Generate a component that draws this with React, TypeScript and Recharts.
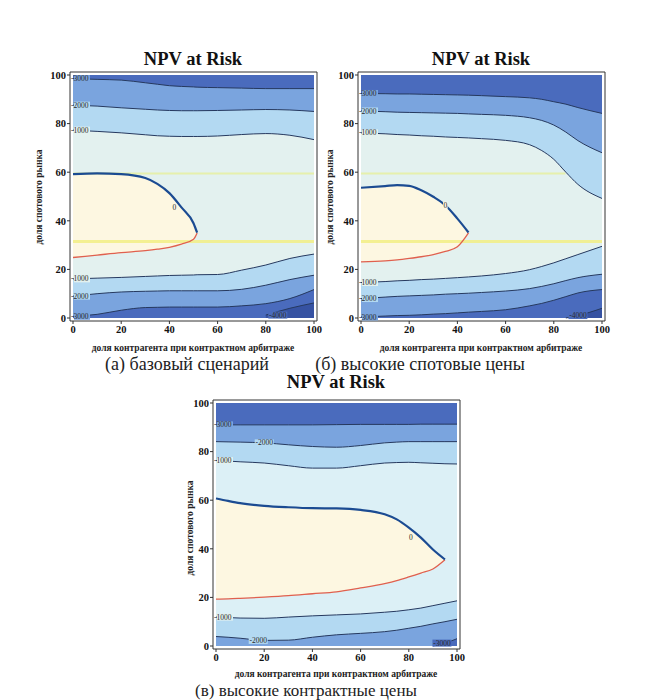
import React from 'react';
import { ComposedChart, Area, Line, XAxis, YAxis, ReferenceLine, LabelList } from 'recharts';

const FONT = '"Liberation Serif", "Times New Roman", serif';

const xTicks = [0, 20, 40, 60, 80, 100];
const yTicks = [0, 20, 40, 60, 80, 100];
const minorTicks = [0, 5, 10, 15, 20, 25, 30, 35, 40, 45, 50, 55, 60, 65, 70, 75, 80, 85, 90, 95, 100];

// (а) базовый сценарий
const xA = [0, 10, 20, 30, 35, 40, 45, 50, 51.5, 60, 70, 80, 90, 100];
const aTop3 = [98.5, 98.2, 97.9, 96.8, 96.2, 95.6, 95.3, 95.1, 95.0, 94.8, 94.6, 94.4, 94.4, 94.4];
const aTop2 = [87.6, 87.2, 86.5, 85.9, 85.6, 85.4, 85.3, 85.3, 85.3, 85.4, 85.6, 85.8, 85.6, 85.0];
const aTop1 = [77.3, 76.8, 76.2, 75.4, 75.0, 74.8, 74.7, 74.7, 74.7, 74.9, 75.5, 75.9, 75.2, 73.4];
const aZeroHi = [59.2, 59.5, 59.2, 57.6, 55.2, 51.4, 45.5, 39.0, 35.1, null, null, null, null, null];
const aZeroLo = [24.9, 25.9, 26.9, 27.7, 28.3, 29.1, 30.4, 32.4, 35.0, null, null, null, null, null];
const aBot1 = [16.1, 16.4, 16.7, 17.1, 17.3, 17.5, 17.6, 17.7, 17.8, 17.9, 19.7, 21.8, 24.5, 26.3];
const aBot2 = [9.0, 10.0, 10.7, 11.0, 11.1, 11.2, 11.2, 11.2, 11.2, 11.2, 11.8, 13.5, 15.8, 17.6];
const aBot3 = [0.7, 1.5, 3.2, 4.3, 4.4, 4.5, 4.5, 4.5, 4.5, 4.5, 5.0, 5.9, 8.0, 11.7];
const aBot4 = [null, null, null, null, null, null, null, null, null, null, null, 1.2, 4.0, 6.2];
const aPlateau = [59.5, 31.5];
const aPlateauEnd = [100, 100];

// (б) высокие спотовые цены
const xB = [0, 10, 15, 20, 25, 30, 35, 40, 44.6, 50, 60, 70, 75, 80, 85, 90, 100];
const bTop3 = [92.4, 92.3, 92.2, 92.2, 92.1, 92.0, 91.9, 91.8, 91.7, 91.5, 91.1, 90.6, 90.0, 89.0, 88.0, 86.6, 84.2];
const bTop2 = [85.2, 84.9, 84.7, 84.6, 84.5, 84.4, 84.3, 84.2, 84.0, 83.8, 83.4, 82.4, 81.3, 79.4, 76.5, 73.0, 68.0];
const bTop1 = [76.2, 75.8, 75.5, 75.3, 75.0, 74.8, 74.5, 74.3, 74.1, 73.8, 73.1, 71.3, 68.9, 65.3, 60.0, 55.0, 49.2];
const bZeroHi = [53.6, 54.3, 54.7, 54.4, 52.6, 49.9, 46.4, 40.9, 35.2, null, null, null, null, null, null, null, null];
const bZeroLo = [23.1, 23.5, 23.9, 24.5, 25.2, 26.1, 27.4, 29.3, 35.0, null, null, null, null, null, null, null, null];
const bBot1 = [14.6, 15.0, 15.3, 15.5, 15.8, 16.0, 16.3, 16.6, 16.9, 17.3, 18.3, 19.9, 21.2, 22.7, 24.4, 26.1, 29.5];
const bBot2 = [8.0, 8.6, 8.9, 9.1, 9.3, 9.5, 9.8, 10.0, 10.2, 10.5, 11.1, 12.1, 13.0, 14.1, 15.4, 16.6, 18.0];
const bBot3 = [0.4, 0.8, 1.0, 1.1, 1.3, 1.6, 1.8, 2.1, 2.4, 2.7, 3.4, 5.0, 6.0, 7.3, 8.8, 10.3, 11.7];
const bBot4 = [null, null, null, null, null, null, null, null, null, null, null, null, null, null, 0.0, 1.0, 4.0];
const bPlateau = [59.5, 31.5];
const bPlateauEnd = [84.8, 100];

// (в) высокие контрактные цены
const xC = [0, 5, 10, 20, 30, 40, 50, 60, 70, 75, 80, 85, 90, 95, 100];
const cTop3 = [91.0, 91.0, 91.0, 91.0, 91.0, 91.0, 91.1, 91.2, 91.2, 91.2, 91.2, 91.3, 91.3, 91.3, 91.3];
const cTop2 = [84.1, 84.0, 83.9, 83.6, 82.8, 82.1, 81.8, 82.5, 83.6, 83.9, 84.1, 84.1, 84.1, 84.1, 84.1];
const cTop1 = [76.3, 76.1, 75.8, 75.3, 74.2, 73.2, 73.2, 74.2, 75.3, 75.5, 75.6, 75.4, 75.2, 75.0, 74.9];
const cZeroHi = [60.7, 59.7, 58.8, 57.7, 57.1, 56.7, 56.6, 56.0, 54.2, 52.1, 48.7, 44.6, 39.7, 35.6, null];
const cZeroLo = [19.3, 19.4, 19.6, 20.1, 20.7, 21.5, 22.3, 23.9, 25.7, 26.9, 28.4, 30.0, 31.7, 35.5, null];
const cBot1 = [11.9, 11.7, 11.5, 11.4, 11.9, 12.4, 12.8, 13.2, 13.9, 14.3, 14.9, 15.6, 16.6, 17.6, 18.6];
const cBot2 = [3.9, 3.6, 3.2, 2.3, 2.4, 3.6, 4.6, 5.2, 5.9, 6.5, 7.3, 8.1, 9.1, 10.0, 11.0];
const cBot3 = [null, null, null, null, null, null, null, null, null, null, null, null, 0.0, 1.2, 3.0];

const BAND = ['#e3f1ef', '#b3d9f2', '#7aa4de', '#4a6bbd', '#3652a2'];
const INSIDE = '#fdf7e1';
const LINE = '#26395f';

function buildRows(xs, series) {
  return xs.map((x, i) => {
    const row = { x };
    Object.keys(series).forEach((k) => {
      row[k] = series[k][i];
    });
    return row;
  });
}

const rowsA = buildRows(xA, {
  top3: aTop3, top2: aTop2, top1: aTop1, zeroHi: aZeroHi, zeroLo: aZeroLo,
  bot1: aBot1, bot2: aBot2, bot3: aBot3, bot4: aBot4,
});
const rowsB = buildRows(xB, {
  top3: bTop3, top2: bTop2, top1: bTop1, zeroHi: bZeroHi, zeroLo: bZeroLo,
  bot1: bBot1, bot2: bBot2, bot3: bBot3, bot4: bBot4,
});
const rowsC = buildRows(xC, {
  top3: cTop3, top2: cTop2, top1: cTop1, zeroHi: cZeroHi, zeroLo: cZeroLo,
  bot1: cBot1, bot2: cBot2, bot3: cBot3,
});

// contour labels: series key, row index, text
const labelsA = [
  { key: 'top3', i: 0, text: '-3000', bg: BAND[2] },
  { key: 'top2', i: 0, text: '-2000', bg: BAND[1] },
  { key: 'top1', i: 0, text: '-1000', bg: BAND[0] },
  { key: 'zeroHi', i: 6, text: '0', dx: -7, bg: INSIDE },
  { key: 'bot1', i: 0, text: '-1000', bg: BAND[0] },
  { key: 'bot2', i: 0, text: '-2000', bg: BAND[1] },
  { key: 'bot3', i: 0, text: '-3000', bg: BAND[2] },
  { key: 'bot4', i: 11, text: '-4000', dx: 12, bg: BAND[3] },
];
const labelsB = [
  { key: 'top3', i: 0, text: '-3000', bg: BAND[2] },
  { key: 'top2', i: 0, text: '-2000', bg: BAND[1] },
  { key: 'top1', i: 0, text: '-1000', bg: BAND[0] },
  { key: 'zeroHi', i: 6, text: '0', dx: 0, bg: INSIDE },
  { key: 'bot1', i: 0, text: '-1000', bg: BAND[0] },
  { key: 'bot2', i: 0, text: '-2000', bg: BAND[1] },
  { key: 'bot3', i: 0, text: '-3000', bg: BAND[2] },
  { key: 'bot4', i: 15, text: '-4000', dx: 0, bg: BAND[3] },
];
const labelsC = [
  { key: 'top3', i: 0, text: '-3000', bg: BAND[2] },
  { key: 'top2', i: 3, text: '-2000', dx: 0, bg: BAND[1] },
  { key: 'top1', i: 0, text: '-1000', bg: BAND[0] },
  { key: 'zeroHi', i: 11, text: '0', dx: -10, bg: INSIDE },
  { key: 'bot1', i: 0, text: '-1000', bg: BAND[0] },
  { key: 'bot2', i: 3, text: '-2000', dx: -6, bg: BAND[1] },
  { key: 'bot3', i: 13, text: '-3000', dx: -3, bg: BAND[3] },
];

const makeLabel = (lab) => (p) => {
  if (p.index !== lab.i || p.x == null || p.y == null) return null;
  const atEdge = lab.dx === undefined;
  const x = Number(p.x) + (atEdge ? -2 : lab.dx);
  const y = Number(p.y);
  const w = lab.text.length * 3.6 + 1;
  const rx = atEdge ? x + 3 : x - w / 2;
  return (
    <g key={`${lab.key}-${lab.i}`}>
      <rect x={rx} y={y - 3.5} width={atEdge ? w - 3 : w} height={7} fill={lab.bg} />
      <text x={x} y={y} dy="0.34em" textAnchor={atEdge ? 'start' : 'middle'} fontSize={7.5}
        fontFamily={FONT} fill="#2a2a2a">{lab.text}</text>
    </g>
  );
};

const tickStyle = { fontFamily: FONT, fontSize: 10.5, fontWeight: 'bold', fill: '#111' };

function ContourPanel({ rows, labels, base, plateau = [], plateauEnd = [] }) {
  const keys = Object.keys(rows[0]).filter((k) => k !== 'x');
  const lineKeys = keys.filter((k) => k !== 'zeroHi' && k !== 'zeroLo');
  const topKeys = ['top1', 'top2', 'top3'];
  const botKeys = ['bot1', 'bot2', 'bot3', 'bot4'].filter((k) => keys.includes(k));
  return (
    <ComposedChart width={330} height={350} data={rows}
      margin={{ top: 72, right: 13, bottom: 9, left: 40 }}>
      <XAxis dataKey="x" type="number" domain={[0, 100]} ticks={xTicks} interval={0}
        padding={{ left: 3, right: 3 }} height={20} tickSize={3} tickMargin={2}
        stroke="#333" tick={tickStyle} />
      <XAxis xAxisId="top" orientation="top" dataKey="x" type="number" domain={[0, 100]}
        ticks={minorTicks} interval={0} padding={{ left: 3, right: 3 }} height={1}
        mirror tick={false} tickSize={2} stroke="#333" />
      <YAxis type="number" domain={[0, 100]} ticks={yTicks} interval={0}
        padding={{ top: 3, bottom: 3 }} width={30} tickSize={3} tickMargin={1}
        stroke="#333" tick={tickStyle} />
      <YAxis yAxisId="right" orientation="right" type="number" domain={[0, 100]}
        ticks={minorTicks} interval={0} padding={{ top: 3, bottom: 3 }} width={1}
        mirror tick={false} tickSize={2} stroke="#333" />

      <Area dataKey={() => [0, 100]} fill={base} fillOpacity={1} stroke="none"
        isAnimationActive={false} activeDot={false} />
      {topKeys.map((k, i) => (
        <Area key={`fa-${k}`} type="monotone" dataKey={(r) => (r[k] == null ? null : [r[k], 100])}
          fill={BAND[i + 1]} fillOpacity={1} stroke="none" isAnimationActive={false} activeDot={false} />
      ))}
      {botKeys.map((k, i) => (
        <Area key={`fb-${k}`} type="monotone" dataKey={(r) => (r[k] == null ? null : [0, r[k]])}
          fill={BAND[i + 1]} fillOpacity={1} stroke="none" isAnimationActive={false} activeDot={false} />
      ))}
      <Area type="monotone" dataKey={(r) => (r.zeroHi == null ? null : [r.zeroLo, r.zeroHi])}
        fill={INSIDE} fillOpacity={1} stroke="none" isAnimationActive={false} activeDot={false} />

      {plateau.map((y, i) => (
        <ReferenceLine key={`pl-${i}`} segment={[{ x: 0, y }, { x: plateauEnd[i], y }]}
          stroke={i === 0 ? '#e6f0a0' : '#f2ee84'} strokeWidth={i === 0 ? 2 : 3}
          strokeOpacity={0.85} />
      ))}

      {lineKeys.map((k) => (
        <Line key={`l-${k}`} type="monotone" dataKey={k} stroke={LINE} strokeWidth={1}
          dot={false} activeDot={false} isAnimationActive={false}>
          {labels.filter((l) => l.key === k).map((l) => (
            <LabelList key={`ll-${k}`} dataKey={k} content={makeLabel(l)} />
          ))}
        </Line>
      ))}
      <Line type="monotone" dataKey="zeroLo" stroke="#e0604e" strokeWidth={1.3}
        dot={false} activeDot={false} isAnimationActive={false} />
      <Line type="monotone" dataKey="zeroHi" stroke="#1b4b92" strokeWidth={2.2}
        dot={false} activeDot={false} isAnimationActive={false}>
        {labels.filter((l) => l.key === 'zeroHi').map((l) => (
          <LabelList key="ll-zero" dataKey="zeroHi" content={makeLabel(l)} />
        ))}
      </Line>
    </ComposedChart>
  );
}

const TITLE = 'NPV at Risk';
const Y_LABEL = 'доля спотового рынка';
const X_LABEL = 'доля контрагента при контрактном арбитраже';

export default function App() {
  const small = { fontFamily: FONT, fontSize: 9.5, fontWeight: 'bold', fill: '#222' };
  const title = { fontFamily: FONT, fontSize: 18.5, fontWeight: 'bold', fill: '#111' };
  const caption = { fontFamily: FONT, fontSize: 18, fill: '#222' };
  return (
    <div style={{ position: 'absolute', left: 0, top: 0, width: 662, height: 700, background: '#fff', overflow: 'hidden' }}>
      <div style={{ position: 'absolute', left: 0, top: 0 }}>
        <ContourPanel rows={rowsA} labels={labelsA} base={BAND[0]} plateau={aPlateau} plateauEnd={aPlateauEnd} />
      </div>
      <div style={{ position: 'absolute', left: 288, top: 0 }}>
        <ContourPanel rows={rowsB} labels={labelsB} base={BAND[0]} plateau={bPlateau} plateauEnd={bPlateauEnd} />
      </div>
      <div style={{ position: 'absolute', left: 143, top: 328 }}>
        <ContourPanel rows={rowsC} labels={labelsC} base="#dcf0f6" />
      </div>
      <svg width={662} height={700} style={{ position: 'absolute', left: 0, top: 0, pointerEvents: 'none' }}>
        <text x={193} y={65} textAnchor="middle" {...title}>{TITLE}</text>
        <text x={481} y={65} textAnchor="middle" {...title}>{TITLE}</text>
        <text x={336} y={388} textAnchor="middle" {...title}>{TITLE}</text>

        <text transform="translate(42,197) rotate(-90)" textAnchor="middle" {...small}>{Y_LABEL}</text>
        <text transform="translate(333,197) rotate(-90)" textAnchor="middle" {...small}>{Y_LABEL}</text>
        <text transform="translate(193,528) rotate(-90)" textAnchor="middle" {...small}>{Y_LABEL}</text>

        <text x={193} y={351} textAnchor="middle" {...small}>{X_LABEL}</text>
        <text x={481} y={351} textAnchor="middle" {...small}>{X_LABEL}</text>
        <text x={336} y={677} textAnchor="middle" {...small}>{X_LABEL}</text>

        <text x={187} y={370} textAnchor="middle" {...caption}>(а) базовый сценарий</text>
        <text x={420} y={370} textAnchor="middle" {...caption}>(б) высокие спотовые цены</text>
        <text x={306} y={696} textAnchor="middle" {...caption} fontSize={17}>(в) высокие контрактные цены</text>
      </svg>
    </div>
  );
}
